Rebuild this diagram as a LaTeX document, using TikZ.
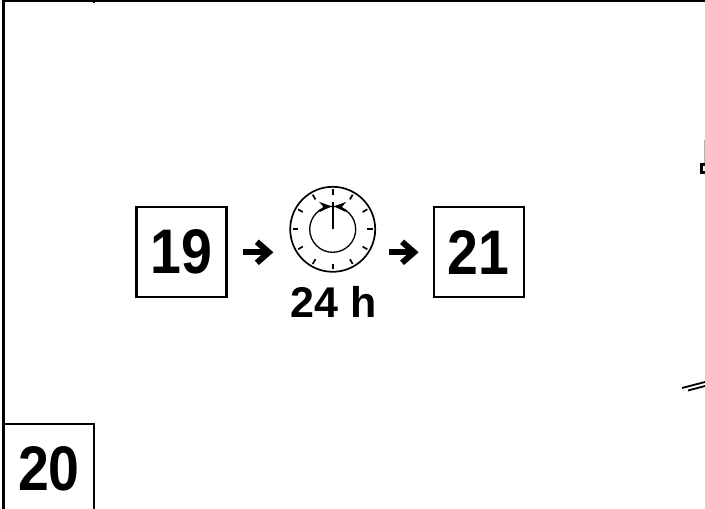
\documentclass[tikz,border=0pt]{standalone}
\usepackage{fontspec}
\setmainfont{Liberation Sans}
\newfontfamily\numfont[FakeStretch=0.88]{Liberation Sans}
\usetikzlibrary{positioning}
\usetikzlibrary{arrows.meta}
\tikzset{
  numbox/.style={draw, line width=2.2pt, minimum width=90pt, minimum height=90pt, inner sep=0pt, font=\numfont\fontsize{63}{63}\selectfont\bfseries},
  flow/.style={line width=6pt, -{Straight Barb[length=12pt, width=21pt, line width=6pt]}},
  dial/.style={draw, circle, line width=1.7pt, inner sep=0pt},
  sweep/.style={line width=1.3pt, -{Stealth[length=12pt, width=10pt]}},
}
\begin{document}
\begin{tikzpicture}[x=1pt, y=1pt]
  \useasboundingbox (0,0) rectangle (705,-509);
  % Numbered boxes and clock
  \node [numbox] (n19) at (181.5,-252.3) {19};
  \node [numbox, right=205pt of n19] (n21) {21};
  \node [dial, minimum size=85pt] (clock) at (332.7,-229.3) {};
  \node [dial, minimum size=46pt, line width=1.3pt] (inner) at (clock) {};
  \node [below=10pt of clock, xshift=1pt, font=\fontsize{43}{43}\selectfont\bfseries] (hours) {24 h};
  \node [numbox] (n20) at (49,-468.8) {20};

  % Frame
  \coordinate (framestart) at (705,-1);
  \coordinate (framecorner) at (3.5,-1);
  \coordinate (frameend) at (3.5,-509);
  \coordinate (notch) at (94.3,0);
  \draw [line width=2.4pt] (framestart) -- (framecorner) -- (frameend);
  \draw [line width=1.8pt] (notch) -- ++(0,-2.5);

  % Connectors
  \draw [flow, shorten <=15pt, shorten >=16pt] (n19.east) -- (n19.east -| clock.west);
  \draw [flow, shorten <=13pt, shorten >=14pt] (n21.west -| clock.east) -- (n21.west);

  % Clock face
  \foreach \ang in {0,30,...,330}
    \draw [line width=1.7pt] (clock.center) ++(\ang:34.5) -- ++(\ang:5.5);
  \draw [line width=1.7pt] (clock.center) -- ++(0,27);
  \draw [sweep] (clock.center) ++(128:23) arc (128:93:23);
  \draw [sweep] (clock.center) ++(52:23) arc (52:87:23);

  % Cut off bits at the right edge
  \coordinate (cutA) at (705,-164);
  \coordinate (cutB) at (705,-172);
  \draw [line width=3pt] (cutA) -- (701.5,-164) -- (701.5,-172) -- (cutB);
  \draw [line width=1pt, gray!60] (704,-140) -- (704,-163);
  \draw [line width=1.8pt] (682,-388) -- (705,-382);
  \draw [line width=1.8pt] (688,-390.5) -- (705,-386);
\end{tikzpicture}
\end{document}
